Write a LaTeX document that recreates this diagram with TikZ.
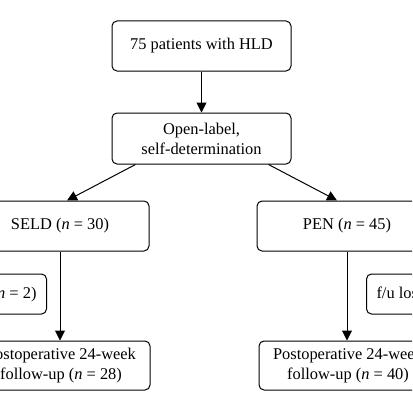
\documentclass[tikz,border=0pt]{standalone}
\usepackage{fontspec}
\setmainfont{Liberation Serif}
\usetikzlibrary{arrows.meta}
\begin{document}
\begin{tikzpicture}[x=1pt,y=-1pt,
  box/.style={draw, line width=1pt, rounded corners=5pt, align=center, font=\fontsize{16.4}{20}\selectfont, inner sep=0pt},
  arr/.style={line width=1pt, -{Triangle[length=10pt,width=10pt]}}]
\useasboundingbox (0,0) rectangle (412,412);
\clip (0,0) rectangle (412,412);
\node[box, minimum width=179pt, minimum height=50pt] (b1) at (201.5,46) {75 patients with HLD};
\node[box, minimum width=179pt, minimum height=51pt] (b2) at (201.5,138.5) {Open-label,\\self-determination};
\node[box, minimum width=178pt, minimum height=50pt] (b3) at (60,226) {SELD (\textit{n} = 30)};
\node[box, minimum width=180pt, minimum height=50pt] (b4) at (347,226) {PEN (\textit{n} = 45)};
\node[box, minimum height=40pt, inner xsep=10pt, anchor=east] (s1) at (47,294) {f/u loss (\textit{n} = 2)};
\node[box, minimum height=40pt, inner xsep=10pt, anchor=west] (s2) at (366,294) {f/u loss (\textit{n} = 5)};
\node[box, minimum width=178pt, minimum height=49pt] (b5) at (61,365.5) {Postoperative 24-week\\follow-up (\textit{n} = 28)};
\node[box, minimum width=178pt, minimum height=49pt] (b6) at (348,365.5) {Postoperative 24-week\\follow-up (\textit{n} = 40)};
\draw[arr] (b1.south) -- (b2.north);
\draw[arr] ([xshift=24pt]b2.south west) -- ([xshift=7pt]b3.north);
\draw[arr] ([xshift=-23pt]b2.south east) -- ([xshift=-10pt]b4.north);
\draw[arr] (b3.south) -- (b3.south |- b5.north);
\draw[arr] (b4.south) -- (b4.south |- b6.north);
\end{tikzpicture}
\end{document}
